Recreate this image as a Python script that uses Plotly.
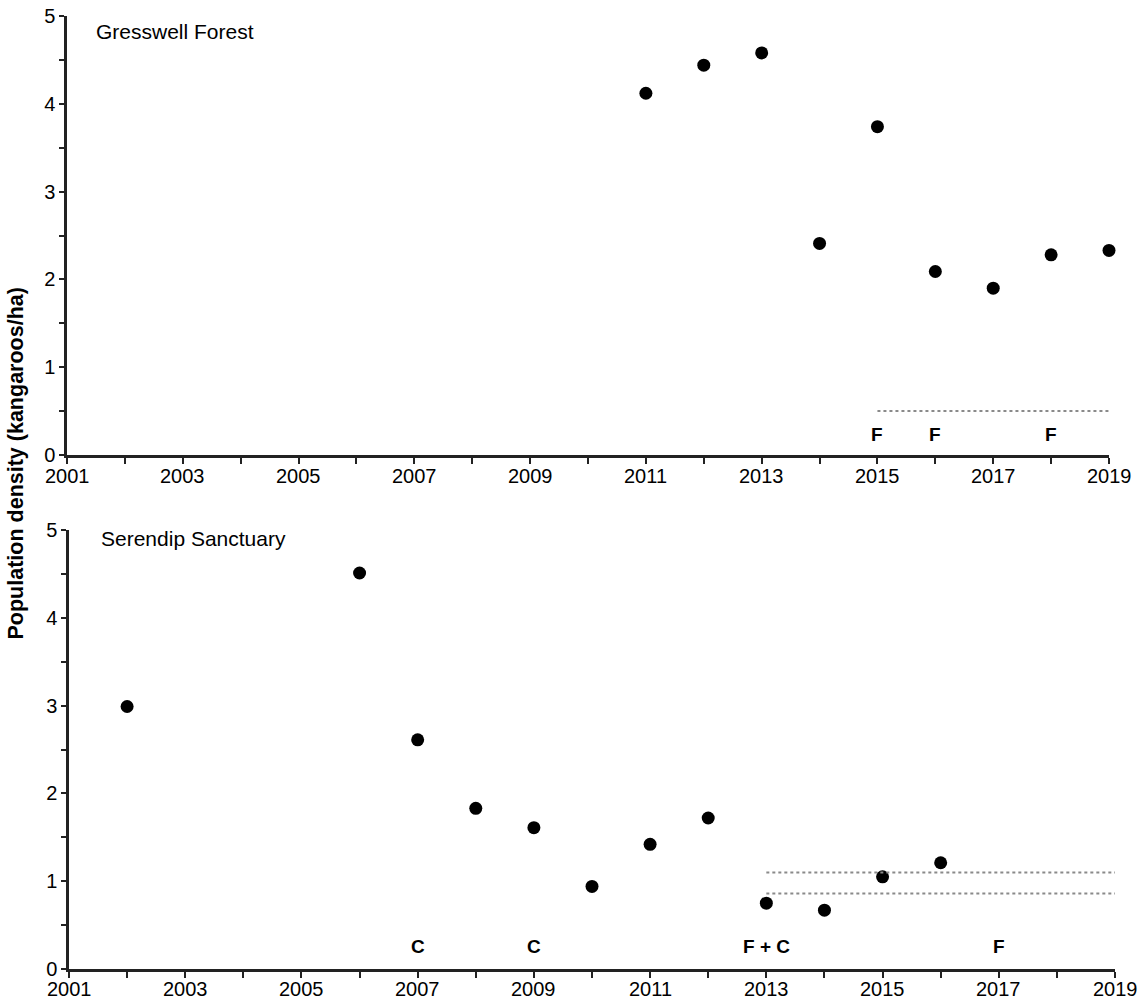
import plotly.graph_objects as go

# ---- data ----
gress_years = [2011, 2012, 2013, 2014, 2015, 2016, 2017, 2018, 2019]
gress_density = [4.12, 4.44, 4.58, 2.41, 3.74, 2.09, 1.90, 2.28, 2.33]
gress_line_years = [2015, 2019]
gress_line_values = [0.5]
gress_event_years = [2015, 2016, 2018]
gress_event_labels = ["F", "F", "F"]

seren_years = [2002, 2006, 2007, 2008, 2009, 2010, 2011, 2012, 2013, 2014, 2015, 2016]
seren_density = [2.99, 4.51, 2.61, 1.83, 1.61, 0.94, 1.42, 1.72, 0.75, 0.67, 1.05, 1.21]
seren_line_years = [2013, 2019]
seren_line_values = [1.10, 0.86]
seren_event_years = [2007, 2009, 2013, 2017]
seren_event_labels = ["C", "C", "F + C", "F"]

x_tickvals = list(range(2001, 2020, 2))
x_ticktext = [str(v) for v in x_tickvals]
y_tickvals = [0, 1, 2, 3, 4, 5]

FONT = "Liberation Sans, Arial, sans-serif"
W, H = 1141, 1003

fig = go.Figure()

# markers
fig.add_trace(go.Scatter(x=gress_years, y=gress_density, mode="markers",
                         marker=dict(color="black", size=13), cliponaxis=False,
                         xaxis="x", yaxis="y", showlegend=False))
fig.add_trace(go.Scatter(x=seren_years, y=seren_density, mode="markers",
                         marker=dict(color="black", size=13), cliponaxis=False,
                         xaxis="x2", yaxis="y2", showlegend=False))

# dotted reference lines
for v in gress_line_values:
    fig.add_trace(go.Scatter(x=gress_line_years, y=[v, v], mode="lines",
                             line=dict(color="#8a8a8a", width=2, dash="dot"),
                             xaxis="x", yaxis="y", showlegend=False))
for v in seren_line_values:
    fig.add_trace(go.Scatter(x=seren_line_years, y=[v, v], mode="lines",
                             line=dict(color="#8a8a8a", width=2, dash="dot"),
                             xaxis="x2", yaxis="y2", showlegend=False))

annotations = []
for yr, lab in zip(gress_event_years, gress_event_labels):
    annotations.append(dict(x=yr, y=0.23, xref="x", yref="y", text="<b>%s</b>" % lab,
                            showarrow=False, font=dict(size=19, color="black", family=FONT)))
for yr, lab in zip(seren_event_years, seren_event_labels):
    annotations.append(dict(x=yr, y=0.26, xref="x2", yref="y2", text="<b>%s</b>" % lab,
                            showarrow=False, font=dict(size=19, color="black", family=FONT)))

# x tick labels (placed closer to the axis than plotly's default)
for xr, yr_, shift in (("x", "y domain", -21), ("x2", "y2 domain", -20)):
    for v, t in zip(x_tickvals, x_ticktext):
        annotations.append(dict(x=v, y=0, xref=xr, yref=yr_, text=t, showarrow=False,
                                xanchor="center", yanchor="middle", yshift=shift,
                                font=dict(size=20, color="black", family=FONT)))

annotations.append(dict(x=94 / W, y=1 - 31 / H, xref="paper", yref="paper",
                        text="Gresswell Forest", showarrow=False, xanchor="left", yanchor="middle",
                        font=dict(size=21, color="black", family=FONT)))
annotations.append(dict(x=99 / W, y=1 - 538 / H, xref="paper", yref="paper",
                        text="Serendip Sanctuary", showarrow=False, xanchor="left", yanchor="middle",
                        font=dict(size=21, color="black", family=FONT)))
annotations.append(dict(x=15.5 / W, y=1 - 464 / H, xref="paper", yref="paper",
                        text="<b>Population density (kangaroos/ha)</b>", showarrow=False,
                        textangle=-90, xanchor="center", yanchor="middle",
                        font=dict(size=21.5, color="black", family=FONT)))

def xaxis(domain, anchor):
    return dict(domain=domain, anchor=anchor, range=[2001, 2019], tickvals=x_tickvals,
                showticklabels=False,
                ticks="outside", ticklen=6, tickwidth=2, tickcolor="#222",
                minor=dict(dtick=1, tick0=2001, ticks="outside", ticklen=6, tickwidth=2,
                           tickcolor="#222", showgrid=False),
                showline=True, linecolor="#222", linewidth=2.5, showgrid=False,
                zeroline=False, automargin=False)

def yaxis(domain, anchor):
    return dict(domain=domain, anchor=anchor, range=[0, 5], tickvals=y_tickvals,
                ticks="outside", ticklen=5, tickwidth=2, tickcolor="#222",
                minor=dict(dtick=0.5, tick0=0, ticks="outside", ticklen=5, tickwidth=2,
                           tickcolor="#222", showgrid=False),
                showline=True, linecolor="#222", linewidth=2.5, showgrid=False,
                zeroline=False, automargin=False,
                tickfont=dict(size=20, color="black", family=FONT))

fig.update_layout(
    width=W, height=H,
    margin=dict(l=0, r=0, t=0, b=0, autoexpand=False),
    paper_bgcolor="white", plot_bgcolor="white",
    font=dict(family=FONT, color="black"),
    xaxis=xaxis([67 / W, 1109 / W], "y"),
    yaxis=yaxis([548 / H, 987 / H], "x"),
    xaxis2=xaxis([69 / W, 1115 / W], "y2"),
    yaxis2=yaxis([34 / H, 473 / H], "x2"),
    annotations=annotations,
)

fig.write_html("out.html", config={"displayModeBar": False},
               post_script="document.body.style.margin='0px';"
                           "document.body.style.overflow='hidden';")
